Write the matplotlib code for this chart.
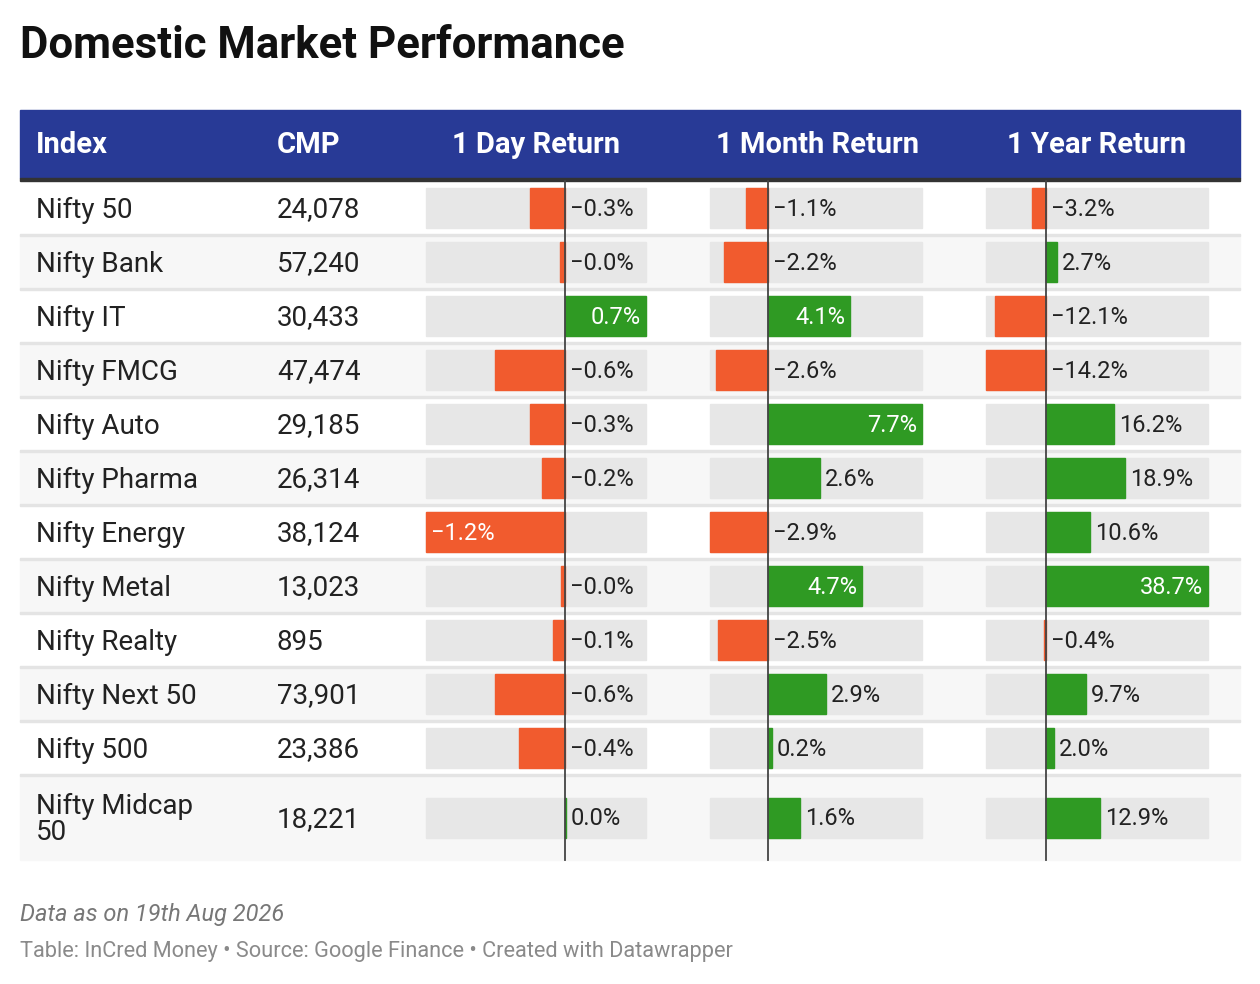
import matplotlib.pyplot as plt
from matplotlib.patches import Rectangle

plt.rcParams['font.family'] = ['Roboto', 'DejaVu Sans']

names = ["Nifty 50", "Nifty Bank", "Nifty IT", "Nifty FMCG", "Nifty Auto", "Nifty Pharma",
         "Nifty Energy", "Nifty Metal", "Nifty Realty", "Nifty Next 50", "Nifty 500",
         "Nifty Midcap\n50"]
cmp_vals = ["24,078", "57,240", "30,433", "47,474", "29,185", "26,314",
            "38,124", "13,023", "895", "73,901", "23,386", "18,221"]
day_ret = [-0.3, -0.0, 0.7, -0.6, -0.3, -0.2, -1.2, -0.0, -0.1, -0.6, -0.4, 0.0]
month_ret = [-1.1, -2.2, 4.1, -2.6, 7.7, 2.6, -2.9, 4.7, -2.5, 2.9, 0.2, 1.6]
year_ret = [-3.2, 2.7, -12.1, -14.2, 16.2, 18.9, 10.6, 38.7, -0.4, 9.7, 2.0, 12.9]
# unrounded guesses so the "-0.0" bars keep their sign
day_raw = [-0.3, -0.04, 0.7, -0.6, -0.3, -0.2, -1.2, -0.03, -0.1, -0.6, -0.4, 0.01]
headers = ["Index", "CMP", "1 Day Return", "1 Month Return", "1 Year Return"]

BLUE = '#283a96'
ORANGE = '#f15b2e'
GREEN = '#2f9a23'
BGBAR = '#e7e7e7'

fig = plt.figure(figsize=(12.6, 9.84), dpi=100)
ax = fig.add_axes([0, 0, 1, 1])
ax.set_xlim(0, 1260)
ax.set_ylim(984, 0)
ax.axis('off')

ax.text(20, 46, "Domestic Market Performance", fontsize=31.5, fontweight='bold',
        va='center', ha='left', color='#111')

# header
ax.add_patch(Rectangle((20, 110), 1220, 68, color=BLUE))
ax.add_patch(Rectangle((20, 178), 1220, 3, color='#333'))
hk = dict(color='white', fontsize=21, fontweight='bold', va='center')
ax.text(36, 145, headers[0], **hk)
ax.text(277, 145, headers[1], **hk)
ax.text(536, 145, headers[2], ha='center', **hk)
ax.text(817, 145, headers[3], ha='center', **hk)
ax.text(1097, 145, headers[4], ha='center', **hk)

# rows
row_top = []
y = 181
for i in range(len(names)):
    h = 85 if i == len(names) - 1 else 54
    row_top.append((y, h))
    if i % 2 == 1 or i == len(names) - 1:
        ax.add_patch(Rectangle((20, y), 1220, h, color='#f7f7f7', zorder=0))
    if i > 0:
        ax.add_patch(Rectangle((20, y - 1), 1220, 2, color='#e4e4e4', zorder=1))
    y += h
table_bottom = y

cols = [
    (day_raw, day_ret, 426, 646),
    (month_ret, month_ret, 710, 922),
    (year_ret, year_ret, 986, 1208),
]

for i, (nm, cv) in enumerate(zip(names, cmp_vals)):
    top, h = row_top[i]
    cy = top + h / 2
    ax.text(36, cy + 2, nm, fontsize=20, va='center', color='#222', linespacing=0.95)
    ax.text(277, cy + 2, cv, fontsize=20, va='center', color='#222')
    for raw, shown, x0, x1 in cols:
        lo, hi = min(raw), max(raw)
        scale = (x1 - x0) / (hi - lo)
        zx = x0 - lo * scale
        v = raw[i]
        ax.add_patch(Rectangle((x0, cy - 20), x1 - x0, 40, color=BGBAR, zorder=2))
        col = GREEN if v > 0 else ORANGE
        ax.add_patch(Rectangle((zx, cy - 20), v * scale, 40, color=col, zorder=3))
        lab = f"{shown[i]:.1f}%".replace('-', '\u2212')
        if v > 0 and v >= 0.5 * hi:
            ax.text(zx + v * scale - 5, cy + 1, lab, ha='right', va='center', fontsize=17,
                    color='white', zorder=5)
        elif v < 0 and -v / (hi - lo) > 0.6:
            ax.text(x0 + 5, cy + 1, lab, ha='left', va='center', fontsize=17,
                    color='white', zorder=5)
        else:
            start = zx + max(v, 0) * scale + 5
            ax.text(start, cy + 1, lab, ha='left', va='center', fontsize=17,
                    color='#222', zorder=5)

for raw, shown, x0, x1 in cols:
    lo, hi = min(raw), max(raw)
    zx = x0 - lo * (x1 - x0) / (hi - lo)
    ax.plot([zx, zx], [181, table_bottom], color='#444', lw=1.3, zorder=6)

ax.text(20, 914, "Data as on 19th Aug 2026", fontsize=17, style='italic',
        color='#777', va='center')
ax.text(20, 951, "Table: InCred Money \u2022 Source: Google Finance \u2022 Created with Datawrapper",
        fontsize=15.7, color='#8a8a8a', va='center')

fig.savefig('out.png', dpi=100)
